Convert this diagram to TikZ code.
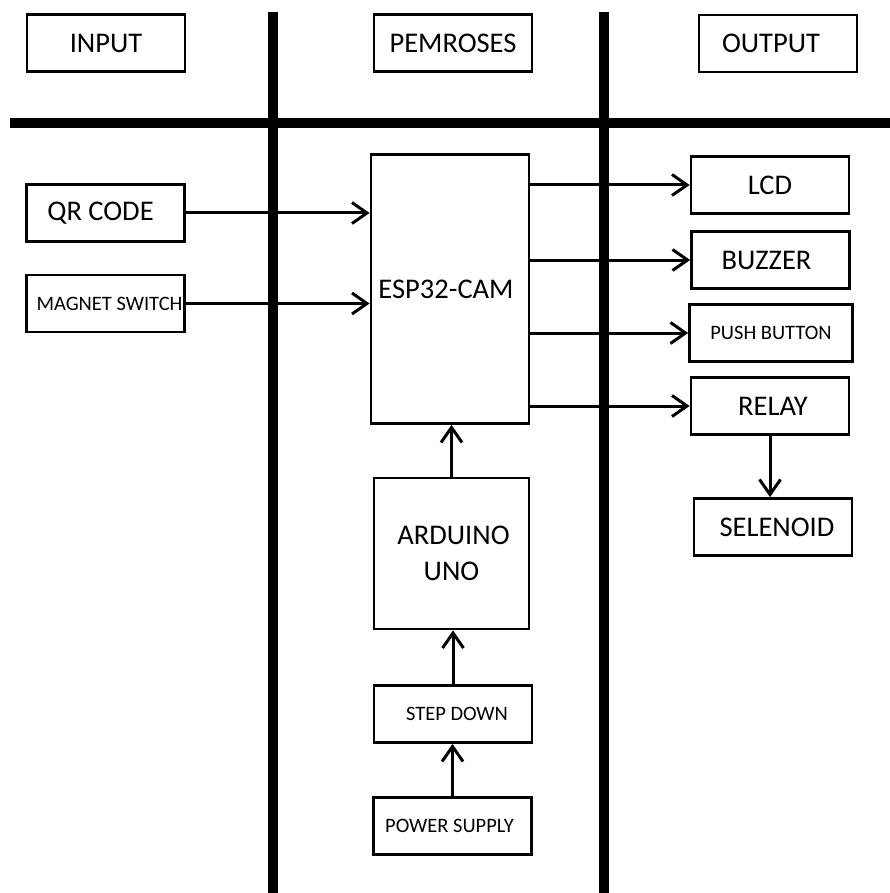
\documentclass[tikz,border=0pt]{standalone}
\usepackage{fontspec}
\setmainfont{Carlito}
\usetikzlibrary{arrows.meta}

\tikzset{
	box/.style={draw,line width=2.8pt,inner sep=0pt,minimum width=158pt,minimum height=57pt,font=\fontsize{28.5}{36}\selectfont,align=center},
	small/.style={font=\fontsize{20.5}{23}\selectfont},
	arrow/.style={line width=3pt,-{Straight Barb[length=15pt,width=21pt,line width=3pt]}},
	divider/.style={line width=10pt}
}

\begin{document}
\begin{tikzpicture}[x=1pt,y=-1pt]
				\useasboundingbox (0,0) rectangle (890,893);
				\draw[divider] (10,123) -- (890,123);
				\draw[divider] (273,12) -- (273,893);
				\draw[divider] (604,12) -- (604,893);
				% heads
				\node[box] (input) at (106,43) {INPUT};
				\node[box] (pemroses) at (453,43) {PEMROSES};
				\node[box] (output) at (778,43.5) {OUTPUT\hspace{14pt}};
				% input side
				\node[box] (qr) at (105.5,213) {QR CODE\hspace{10pt}};
				\node[box,small] (magnet) at (105.5,303.5) {\hspace{8pt}MAGNET SWITCH};
				% middle
				\node[box,minimum height=269pt] (esp) at (450,289) {ESP32-CAM\hspace{8pt}};
				\node[box,minimum width=155pt,minimum height=151pt] (arduino) at (451.5,553.5) {\hspace{4pt}ARDUINO\\UNO};
				\node[box,small] (stepdown) at (453,714) {\hspace{8pt}STEP DOWN};
				\node[box,small] (power) at (452.5,826) {POWER SUPPLY\hspace{6pt}};
				% output side
				\node[box] (lcd) at (770,185) {LCD};
				\node[box] (buzzer) at (770.5,260) {BUZZER\hspace{8pt}};
				\node[box,small,minimum width=163pt] (push) at (771,333) {PUSH BUTTON};
				\node[box] (relay) at (770,406) {\hspace{6pt}RELAY};
				\node[box] (selenoid) at (773,527) {\hspace{8pt}SELENOID};
				\draw[arrow] (qr.east) -- (qr.east -| esp.west);
				\draw[arrow] (magnet.east) -- (magnet.east -| esp.west);
				\draw[arrow] (esp.east |- lcd) -- (lcd.west);
				\draw[arrow] (esp.east |- buzzer) -- (buzzer.west);
				\draw[arrow] (esp.east |- push) -- (push.west);
				\draw[arrow] (esp.east |- relay) -- (relay.west);
				\draw[arrow] (relay.south) -- (relay.south |- selenoid.north);
				\draw[arrow] (arduino.north) -- (arduino.north |- esp.south);
				\draw[arrow] (stepdown.north) -- (stepdown.north |- arduino.south);
				\draw[arrow] (power.north) -- (power.north |- stepdown.south);
\end{tikzpicture}
\end{document}
